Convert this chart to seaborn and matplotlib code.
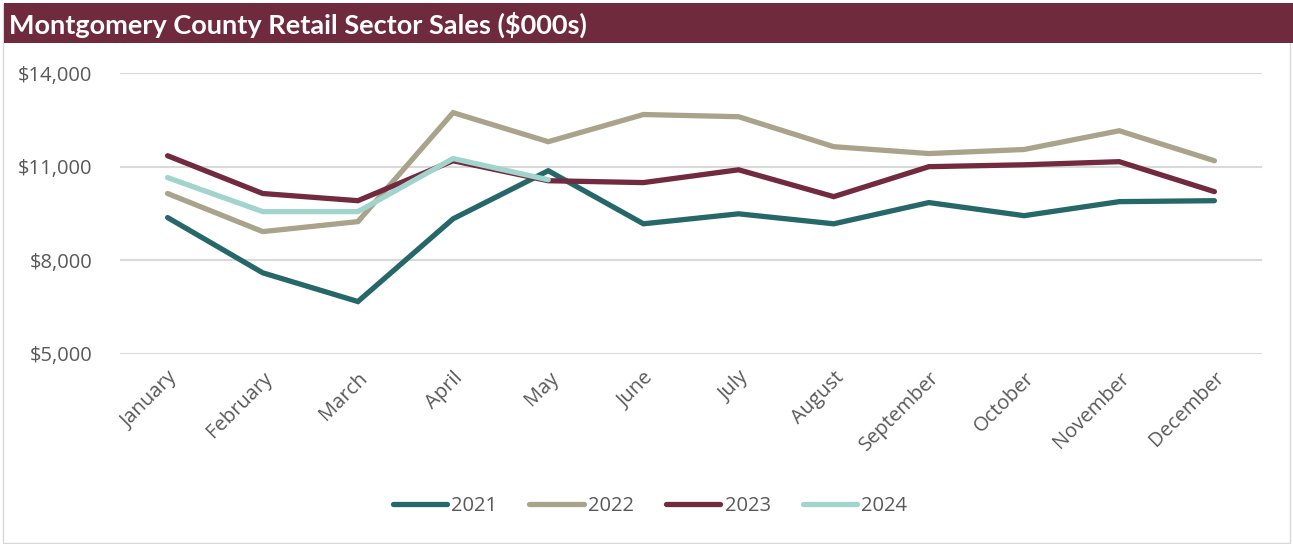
import numpy as np
import pandas as pd
import seaborn as sns
import matplotlib.pyplot as plt
from matplotlib.patches import Rectangle
from matplotlib.ticker import FuncFormatter

months = ['January', 'February', 'March', 'April', 'May', 'June', 'July',
          'August', 'September', 'October', 'November', 'December']
sales_2021 = [9370, 7600, 6680, 9330, 10870, 9170, 9490, 9170, 9850, 9430, 9880, 9910]
sales_2022 = [10140, 8920, 9240, 12730, 11800, 12670, 12600, 11640, 11420, 11550, 12150, 11190]
sales_2023 = [11350, 10140, 9910, 11190, 10550, 10490, 10900, 10040, 11000, 11060, 11160, 10200]
sales_2024 = [10650, 9560, 9560, 11260, 10580]
years = ['2021', '2022', '2023', '2024']
colors = ['#26686A', '#AAA38B', '#722A3E', '#A0D4CC']

frames = []
for year, vals in zip(years, [sales_2021, sales_2022, sales_2023, sales_2024]):
    frames.append(pd.DataFrame({'month': months[:len(vals)], 'idx': range(len(vals)),
                                'sales': vals, 'year': year}))
df = pd.concat(frames, ignore_index=True)

sns.set_style('white')
plt.rcParams['font.family'] = ['Open Sans', 'DejaVu Sans']

fig = plt.figure(figsize=(12.93, 5.44), dpi=100)
ax = fig.add_axes([120 / 1293, 1 - 354 / 544, 1142 / 1293, 281 / 544])

sns.lineplot(data=df, x='idx', y='sales', hue='year', palette=colors,
             linewidth=3.8, ax=ax, legend=False, sort=False)
for line in ax.get_lines():
    line.set_solid_capstyle('round')
    line.set_solid_joinstyle('miter')

ax.set_xlim(-0.5, 11.5)
ax.set_ylim(5000, 14000)
ax.set_yticks([5000, 8000, 11000, 14000])
ax.yaxis.set_major_formatter(FuncFormatter(lambda v, p: '${:,.0f}'.format(v)))
ax.set_xticks(range(12))
ax.set_xticklabels(months, rotation=45, ha='right', rotation_mode='anchor')
ax.tick_params(axis='both', length=0, labelsize=14.5, labelcolor='#595959')
ax.tick_params(axis='y', pad=20)
ax.tick_params(axis='x', pad=10)
ax.grid(axis='y', color='#D9D9D9', linewidth=1.5)
ax.set_axisbelow(True)
for s in ax.spines.values():
    s.set_visible(False)
ax.set_xlabel('')
ax.set_ylabel('')

# legend
handles = [plt.Line2D([], [], color=c, linewidth=3.8, solid_capstyle='round') for c in colors]
fig.legend(handles, years, loc='center', bbox_to_anchor=(650 / 1293, 1 - 506 / 544),
           ncol=4, frameon=False, fontsize=14.5, labelcolor='#595959',
           handlelength=2.7, handletextpad=0.2, columnspacing=1.6)

# title bar and outer border
fig.patches.append(Rectangle((4 / 1293, 1 - 43 / 544), 1289 / 1293, 40 / 544,
                             transform=fig.transFigure, facecolor='#6F2A3E',
                             edgecolor='none', zorder=0))
fig.patches.append(Rectangle((3 / 1293, 0.002), 1287 / 1293, 0.99,
                             transform=fig.transFigure, facecolor='none',
                             edgecolor='#D9D9D9', linewidth=1, zorder=-1))
fig.text(9 / 1293, 1 - 25 / 544, 'Montgomery County Retail Sector Sales ($000s)',
         color='white', fontsize=19.5, fontweight='bold', va='center', ha='left',
         family=['Lato', 'DejaVu Sans'])

fig.savefig('out.png', dpi=100, facecolor='white')
